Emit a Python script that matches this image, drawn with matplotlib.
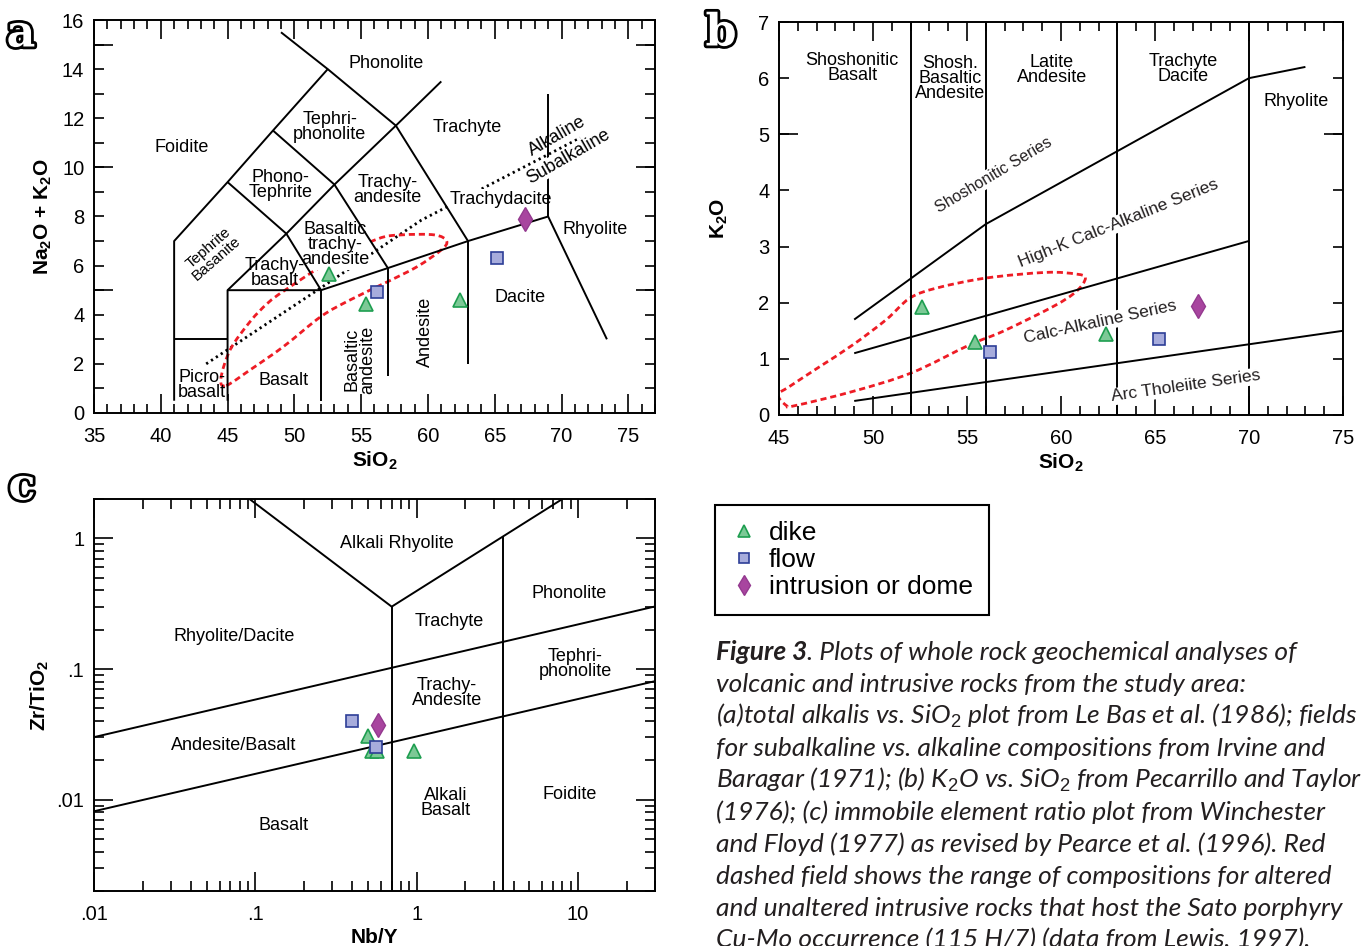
import numpy as np
import matplotlib
matplotlib.use('Agg')
import matplotlib.pyplot as plt
import matplotlib.patheffects as pe
from matplotlib.path import Path
from matplotlib.patches import PathPatch
from matplotlib.lines import Line2D
from matplotlib.ticker import MultipleLocator, LogLocator, NullFormatter

plt.rcParams['font.family'] = ['Liberation Sans', 'DejaVu Sans']
plt.rcParams['mathtext.fontset'] = 'custom'
plt.rcParams['mathtext.rm'] = 'Liberation Sans'
plt.rcParams['mathtext.it'] = 'Liberation Sans:italic'
plt.rcParams['mathtext.bf'] = 'Liberation Sans:bold'
plt.rcParams['axes.linewidth'] = 1.4

# ---- sample analyses ----
dike_sio2 = [52.6, 55.4, 62.4]
dike_alk = [5.67, 4.45, 4.61]
dike_k2o = [1.93, 1.30, 1.45]
flow_sio2 = [56.2, 65.2]
flow_alk = [4.92, 6.33]
flow_k2o = [1.13, 1.36]
dome_sio2 = [67.3]
dome_alk = [7.89]
dome_k2o = [1.94]

dike_nby = [0.50, 0.53, 0.57, 0.96]
dike_zrti = [0.0308, 0.0234, 0.0234, 0.0234]
flow_nby = [0.40, 0.56]
flow_zrti = [0.0401, 0.0251]
dome_nby = [0.575]
dome_zrti = [0.0374]

# ---- (a) TAS field boundaries ----
tas_lines = [
    [(41, 0.5), (41, 7), (45, 9.4), (48.4, 11.5), (52.5, 14), (57.6, 11.7), (63, 7)],
    [(49, 15.5), (52.5, 14)],
    [(57.6, 11.7), (61, 13.5)],
    [(45, 9.4), (49.4, 7.3), (52, 5)],
    [(48.4, 11.5), (53, 9.3), (57, 5.9)],
    [(49.4, 7.3), (53, 9.3), (57.6, 11.7)],
    [(41, 3), (45, 3)],
    [(45, 0.5), (45, 5), (49.4, 7.3)],
    [(45, 5), (52, 5), (57, 5.9), (63, 7), (69, 8), (73.4, 3)],
    [(52, 0.5), (52, 5)],
    [(57, 1.5), (57, 5.9)],
    [(63, 2), (63, 7)],
    [(69, 8), (69, 13)],
]
alk_line_x = [43.4, 52.0, 59.5, 71.4]
alk_line_y = [2.0, 5.1, 7.85, 11.2]

tas_names = ['Phonolite', 'Tephri-\nphonolite', 'Foidite', 'Trachyte', 'Phono-\nTephrite',
             'Trachy-\nandesite', 'Trachydacite', 'Rhyolite', 'Dacite',
             'Basaltic\ntrachy-\nandesite', 'Trachy-\nbasalt', 'Picro-\nbasalt', 'Basalt']
tas_x = [56.9, 52.65, 41.55, 62.97, 48.97, 57.0, 65.48, 72.5, 66.9, 53.06, 48.55, 43.06, 49.19]
tas_y = [14.24, 11.66, 10.8, 11.62, 9.29, 9.08, 8.7, 7.48, 4.7, 6.85, 5.69, 1.15, 1.32]

# Sato field outline (panel a)
sato_a_x = [44.9, 46.7, 49.2, 52.0, 54.2, 57.0, 59.2, 61.0, 61.4, 60.5, 58.0, 56.2, 52.6, 49.3, 48.0, 46.7, 45.2, 44.5]
sato_a_y = [1.12, 1.76, 2.71, 3.93, 4.61, 5.35, 5.96, 6.64, 7.0, 7.25, 7.25, 7.08, 6.15, 5.0, 4.47, 3.73, 2.58, 1.4]

# ---- (b) K2O vs SiO2 ----
k2o_lines = [
    [(49, 1.7), (56, 3.4), (70, 6.0), (73, 6.2)],
    [(49, 1.1), (70, 3.1)],
    [(49, 0.25), (75, 1.5)],
]
k2o_div = [52, 56, 63, 70]
k2o_names = ['Shoshonitic\nBasalt', 'Shosh.\nBasaltic\nAndesite', 'Latite\nAndesite', 'Trachyte\nDacite', 'Rhyolite']
k2o_x = [48.9, 54.1, 59.5, 66.5, 72.5]
k2o_y = [6.18, 6.0, 6.14, 6.17, 5.58]
series_names = ['Shoshonitic Series', 'High-K Calc-Alkaline Series', 'Calc-Alkaline Series', 'Arc Tholeiite Series']
series_x = [56.4, 63.05, 62.1, 66.65]
series_y = [4.27, 3.41, 1.65, 0.51]
series_slope = [0.20, 0.134, 0.073, 0.048]

sato_b_x = [44.95, 45.39, 45.83, 48.93, 52.04, 55.14, 56.91, 59.57, 60.81, 61.3, 60.81, 59.2, 56.02, 53.37, 51.95, 50.71, 48.93, 47.16, 45.57]
sato_b_y = [0.36, 0.17, 0.165, 0.42, 0.75, 1.25, 1.49, 1.93, 2.20, 2.44, 2.51, 2.54, 2.44, 2.26, 2.08, 1.70, 1.25, 0.86, 0.51]

# ---- (c) Zr/TiO2 vs Nb/Y ----
wf_lines = [
    [(0.01, 0.0301), (30, 0.301)],
    [(0.01, 0.00815), (30, 0.0807)],
    [(0.7, 0.002), (0.7, 0.30)],
    [(0.092, 2.0), (0.7, 0.30), (8.0, 2.0)],
    [(3.45, 0.002), (3.45, 1.04)],
]
wf_names = ['Alkali Rhyolite', 'Rhyolite/Dacite', 'Trachyte', 'Phonolite', 'Tephri-\nphonolite',
            'Trachy-\nAndesite', 'Andesite/Basalt', 'Alkali\nBasalt', 'Foidite', 'Basalt']
wf_x = [0.75, 0.0736, 1.60, 8.83, 9.57, 1.54, 0.0736, 1.52, 8.88, 0.150]
wf_y = [0.905, 0.177, 0.231, 0.376, 0.109, 0.0654, 0.026, 0.00944, 0.0109, 0.00633]

caption = [
    '. Plots of whole rock geochemical analyses of',
    'volcanic and intrusive rocks from the study area:',
    '(a)total alkalis vs. SiO$_2$ plot from Le Bas et al. (1986); fields',
    'for subalkaline vs. alkaline compositions from Irvine and',
    'Baragar (1971); (b) K$_2$O vs. SiO$_2$ from Pecarrillo and Taylor',
    '(1976); (c) immobile element ratio plot from Winchester',
    'and Floyd (1977) as revised by Pearce et al. (1996). Red',
    'dashed field shows the range of compositions for altered',
    'and unaltered intrusive rocks that host the Sato porphyry',
    'Cu-Mo occurrence (115 H/7) (data from Lewis, 1997).',
]

W, H = 1362, 946
fig = plt.figure(figsize=(W / 100, H / 100), dpi=100)


def box(l, t, r, b):
    return [l / W, 1 - b / H, (r - l) / W, (b - t) / H]


axa = fig.add_axes(box(94, 20, 655, 413))
axb = fig.add_axes(box(779, 22, 1343, 415))
axc = fig.add_axes(box(94, 499, 655, 891))

line_kw = dict(color='black', lw=1.4, zorder=3, solid_capstyle='butt')
red_kw = dict(fill=False, edgecolor='#ee1c25', lw=2.0, linestyle=(0, (2.2, 1.4)), zorder=1.5)
white = dict(facecolor='white', edgecolor='none', pad=1)
dike_kw = dict(marker='^', ms=9.5, mfc='#7cc996', mec='#1e9e50', mew=1.2, ls='none', zorder=5)
flow_kw = dict(marker='s', ms=8, mfc='#a7acdc', mec='#2d3e97', mew=1.2, ls='none', zorder=5)
dome_kw = dict(marker='d', ms=12, mfc='#a8459f', mec='#94398f', mew=1, ls='none', zorder=5)


def smooth_closed(xs, ys):
    p = np.column_stack([xs, ys])
    n = len(p)
    verts = [p[0]]
    codes = [Path.MOVETO]
    for i in range(n):
        p0, p1, p2, p3 = p[i - 1], p[i], p[(i + 1) % n], p[(i + 2) % n]
        verts += [p1 + (p2 - p0) / 6, p2 - (p3 - p1) / 6, p2]
        codes += [Path.CURVE4] * 3
    return Path(verts, codes)


def ticks_linear(ax, xmaj, ylab, ylong):
    ax.set_xticks(xmaj)
    ax.xaxis.set_minor_locator(MultipleLocator(1))
    ax.set_yticks(ylab)
    ax.yaxis.set_minor_locator(MultipleLocator(1))
    ax.tick_params(which='both', direction='in', top=True, right=True, width=1.2, labelsize=14.5)
    ax.tick_params(axis='x', which='major', length=13.5, pad=10)
    ax.tick_params(axis='x', which='minor', length=6.5)
    ax.tick_params(axis='y', which='both', length=7.5, pad=7)
    for side in ('left', 'right'):
        sec = ax.secondary_yaxis(side)
        sec.set_ticks(ylong)
        sec.tick_params(direction='in', length=13.5, width=1.2, labelleft=False, labelright=False)
        sec.spines[side].set_visible(False)


# ---------------- panel a ----------------
for seg in tas_lines:
    xs, ys = zip(*seg)
    axa.plot(xs, ys, **line_kw)
axa.plot(alk_line_x, alk_line_y, color='black', lw=2.0, ls=(0, (0.8, 1.3)), zorder=1.5)
axa.add_patch(PathPatch(smooth_closed(sato_a_x, sato_a_y), **red_kw))
for name, x, y in zip(tas_names, tas_x, tas_y):
    if name in ('Trachydacite', 'Basaltic\ntrachy-\nandesite'):
        axa.text(x, y, name, ha='center', va='center', fontsize=13, linespacing=0.85,
                 bbox=white, zorder=1.8)
    else:
        axa.text(x, y, name, ha='center', va='center', fontsize=13, linespacing=0.85, zorder=2)
axa.text(43.87, 6.51, 'Tephrite\nBasanite', rotation=41, ha='center', va='center',
         fontsize=11, linespacing=0.95, rotation_mode='anchor')
axa.text(54.9, 2.17, 'Basaltic\nandesite', rotation=90, ha='center', va='center',
         fontsize=13, linespacing=0.9)
axa.text(59.84, 3.32, 'Andesite', rotation=90, ha='center', va='center', fontsize=13)
axa.text(69.68, 11.25, 'Alkaline', rotation=30, ha='center', va='center', fontsize=13,
         rotation_mode='anchor')
axa.text(70.5, 10.44, 'Subalkaline', rotation=30, ha='center', va='center', fontsize=13,
         rotation_mode='anchor', bbox=dict(facecolor='white', edgecolor='none', pad=0.5), zorder=3.5)
axa.plot(dike_sio2, dike_alk, **dike_kw)
axa.plot(flow_sio2, flow_alk, **flow_kw)
axa.plot(dome_sio2, dome_alk, **dome_kw)
axa.set_xlim(35, 77)
axa.set_ylim(0, 16)
ticks_linear(axa, np.arange(35, 80, 5), np.arange(0, 17, 2), [5, 10, 15])
axa.set_xlabel('SiO$_\\mathbf{2}$', fontsize=15, fontweight='bold', labelpad=3)
axa.set_ylabel('Na$_\\mathbf{2}$O + K$_\\mathbf{2}$O', fontsize=15, fontweight='bold', labelpad=6)

# ---------------- panel b ----------------
for seg in k2o_lines:
    xs, ys = zip(*seg)
    axb.plot(xs, ys, **line_kw)
axb.vlines(k2o_div, 0, 7, color='black', lw=1.4, zorder=3)
axb.add_patch(PathPatch(smooth_closed(sato_b_x, sato_b_y), **red_kw))
for name, x, y in zip(k2o_names, k2o_x, k2o_y):
    axb.text(x, y, name, ha='center', va='center', fontsize=13, linespacing=0.85)
for name, x, y, s in zip(series_names, series_x, series_y, series_slope):
    axb.text(x, y, name, ha='center', va='center', fontsize=12.5 if 'Shosh' not in name else 11.5,
             rotation=np.degrees(np.arctan(s)), transform_rotates_text=True,
             rotation_mode='anchor', bbox=dict(facecolor='white', edgecolor='none', pad=0.8),
             zorder=3.5, color='#231f20')
axb.plot(dike_sio2, dike_k2o, **dike_kw)
axb.plot(flow_sio2, flow_k2o, **flow_kw)
axb.plot(dome_sio2, dome_k2o, **dome_kw)
axb.set_xlim(45, 75)
axb.set_ylim(0, 7)
ticks_linear(axb, np.arange(45, 80, 5), np.arange(0, 8, 1), [5])
axb.set_xlabel('SiO$_\\mathbf{2}$', fontsize=15, fontweight='bold', labelpad=3)
axb.set_ylabel('K$_\\mathbf{2}$O', fontsize=15, fontweight='bold', labelpad=20)

# ---------------- panel c ----------------
axc.set_xscale('log')
axc.set_yscale('log')
for seg in wf_lines:
    xs, ys = zip(*seg)
    axc.plot(xs, ys, **line_kw)
for name, x, y in zip(wf_names, wf_x, wf_y):
    axc.text(x, y, name, ha='center', va='center', fontsize=13, linespacing=0.85)
axc.plot(dike_nby, dike_zrti, **dike_kw)
axc.plot(flow_nby, flow_zrti, **flow_kw)
axc.plot(dome_nby, dome_zrti, **dome_kw)
axc.set_xlim(0.01, 30)
axc.set_ylim(0.002, 2)
axc.set_xticks([0.01, 0.1, 1, 10], ['.01', '.1', '1', '10'])
axc.set_yticks([0.01, 0.1, 1], ['.01', '.1', '1'])
axc.xaxis.set_minor_locator(LogLocator(base=10, subs=np.arange(2, 10)))
axc.yaxis.set_minor_locator(LogLocator(base=10, subs=np.arange(2, 10)))
axc.xaxis.set_minor_formatter(NullFormatter())
axc.yaxis.set_minor_formatter(NullFormatter())
axc.tick_params(which='both', direction='in', top=True, right=True, width=1.2, labelsize=14.5, pad=7)
axc.tick_params(axis='x', which='both', pad=10)
axc.tick_params(which='major', length=13.5)
axc.tick_params(which='minor', length=7)
axc.set_xlabel('Nb/Y', fontsize=15, fontweight='bold', labelpad=3)
axc.set_ylabel('Zr/TiO$_\\mathbf{2}$', fontsize=15, fontweight='bold', labelpad=4)

# ---------------- panel letters ----------------
for lab, px, py in [('a', 21, 34), ('b', 721, 33), ('c', 22, 487)]:
    fig.text(px / W, 1 - py / H, lab, fontsize=32, family='DejaVu Serif', weight='bold',
             ha='center', va='center', color='white',
             path_effects=[pe.withStroke(linewidth=4, foreground='black')])

# ---------------- legend ----------------
handles = [Line2D([], [], marker='^', ms=8, mfc='#7cc996', mec='#1e9e50', mew=1.2, ls='none'),
           Line2D([], [], marker='s', ms=6.5, mfc='#a7acdc', mec='#2d3e97', mew=1.2, ls='none'),
           Line2D([], [], marker='d', ms=10, mfc='#a8459f', mec='#94398f', mew=1, ls='none')]
leg = fig.legend(handles, ['dike', 'flow', 'intrusion or dome'], loc='upper left',
                 bbox_to_anchor=(715 / W, 1 - 505 / H), bbox_transform=fig.transFigure,
                 frameon=True, fancybox=False, edgecolor='black', framealpha=1, fontsize=19,
                 handlelength=1.0, handletextpad=0.45, labelspacing=0.12, borderpad=0.6,
                 borderaxespad=0)
leg.get_frame().set_linewidth(1.5)

# ---------------- caption ----------------
cap_font = ['Lato', 'DejaVu Sans']
cap_size = 19
first = fig.text(716 / W, 1 - 652 / H, 'Figure 3', fontsize=cap_size, family=cap_font, style='italic',
                 weight='bold', va='center', ha='left', color='#231f20')
fig.canvas.draw()
bb = first.get_window_extent()
fig.text(bb.x1 / W, 1 - 652 / H, caption[0], fontsize=cap_size, family=cap_font, style='italic',
         va='center', ha='left', color='#231f20')
for i, line in enumerate(caption[1:], start=1):
    fig.text(716 / W, 1 - (652 + 32 * i) / H, line, fontsize=cap_size, family=cap_font, style='italic',
             va='center', ha='left', color='#231f20')

fig.savefig('out.png', dpi=100)
